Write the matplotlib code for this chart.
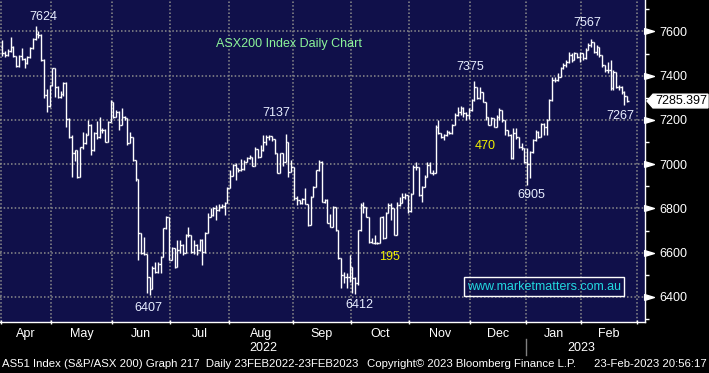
import numpy as np
import matplotlib
matplotlib.use("Agg")
import matplotlib.pyplot as plt
import matplotlib.transforms as mtransforms
from matplotlib.collections import LineCollection
from matplotlib.patches import Polygon

plt.rcParams["font.family"] = ["Liberation Sans", "DejaVu Sans"]

# ── data ──
months = ["Apr", "May", "Jun", "Jul", "Aug", "Sep", "Oct", "Nov", "Dec", "Jan", "Feb"]
month_days = [18, 22, 21, 21, 23, 21, 21, 22, 20, 20, 20]   # trading-day slots per month
years = ["2022", "2023"]
months_per_year = [9, 2]

highs = [
    7560, 7510, 7520, 7577, 7535, 7490, 7492, 7524, 7480, 7490, 7530, 7570, 7624, 7600, 7590, 7475, 7340, 7360,
    7434, 7434, 7355, 7330, 7370, 7370, 7210, 7130, 7064, 7064, 7080, 7147, 7140, 7200, 7180, 7145, 7195, 7215, 7165, 7160, 7195, 7290,
    7283, 7245, 7240, 7253, 7218, 7207, 7147, 7122, 7019, 6932, 6690, 6673, 6595, 6492, 6540, 6557, 6557, 6585, 6712, 6765, 6763,
    6627, 6620, 6658, 6658, 6640, 6685, 6718, 6680, 6658, 6640, 6660, 6660, 6695, 6778, 6800, 6805, 6816, 6820, 6820, 6830, 6895,
    6974, 7000, 7004, 6985, 7022, 7019, 7034, 7042, 7034, 7076, 7070, 7087, 7132, 7132, 7134, 7128, 7113, 7049, 7052, 7049, 7137, 7102, 7019,
    6989, 6857, 6840, 6846, 6891, 6820, 6857, 6900, 6974, 7019, 7015, 6842, 6842, 6775, 6810, 6805, 6703, 6575, 6514, 6510, 6590,
    6537, 6490, 6703, 6823, 6831, 6808, 6763, 6665, 6680, 6650, 6763, 6765, 6786, 6823, 6823, 6800, 6831, 6853, 6869, 6870, 6861,
    6870, 6995, 7012, 6986, 6900, 6950, 7009, 7009, 6975, 7175, 7200, 7140, 7138, 7155, 7150, 7180, 7230, 7260, 7264, 7260, 7235, 7252,
    7293, 7375, 7351, 7351, 7328, 7283, 7215, 7215, 7210, 7223, 7253, 7245, 7200, 7155, 7135, 7162, 7162, 7125, 7094, 7072,
    7072, 7060, 7115, 7155, 7150, 7186, 7186, 7205, 7295, 7396, 7396, 7411, 7441, 7456, 7471, 7509, 7501, 7509, 7501, 7509,
    7501, 7524, 7547, 7567, 7554, 7539, 7531, 7494, 7448, 7463, 7471, 7426, 7418, 7358, 7355, 7330, 7306,
]
lows = [
    7490, 7485, 7488, 7505, 7485, 7440, 7440, 7470, 7435, 7455, 7480, 7520, 7560, 7570, 7465, 7300, 7237, 7260,
    7355, 7305, 7300, 7300, 7310, 7168, 7120, 6944, 7014, 6939, 6941, 7070, 7090, 7130, 7040, 7060, 7115, 7120, 7140, 7100, 7100, 7190,
    7210, 7212, 7155, 7175, 7200, 7086, 7097, 7015, 6925, 6567, 6595, 6590, 6417, 6407, 6435, 6510, 6507, 6510, 6580, 6705, 6567,
    6565, 6530, 6537, 6600, 6590, 6597, 6670, 6600, 6595, 6590, 6610, 6545, 6600, 6690, 6760, 6765, 6748, 6790, 6800, 6772, 6824,
    6891, 6945, 6929, 6965, 6970, 6975, 7010, 7022, 6990, 6992, 7030, 7034, 7060, 7087, 7110, 7105, 7045, 6960, 6962, 6990, 7010, 6944, 6965,
    6840, 6815, 6820, 6822, 6818, 6722, 6725, 6850, 6895, 6970, 6828, 6825, 6734, 6715, 6718, 6700, 6572, 6439, 6462, 6439, 6470,
    6417, 6412, 6455, 6700, 6778, 6760, 6645, 6643, 6640, 6640, 6646, 6660, 6665, 6778, 6748, 6678, 6680, 6810, 6823, 6845, 6780,
    6785, 6866, 6975, 6855, 6831, 6895, 6940, 6960, 6950, 6962, 7135, 7118, 7110, 7128, 7135, 7137, 7175, 7220, 7223, 7215, 7200, 7205,
    7240, 7285, 7295, 7295, 7280, 7200, 7175, 7175, 7168, 7168, 7200, 7192, 7132, 7128, 7022, 7022, 7115, 7075, 7064, 7004,
    6905, 6936, 7050, 7105, 7120, 7125, 7132, 7132, 7200, 7285, 7373, 7378, 7396, 7430, 7440, 7456, 7463, 7471, 7480, 7463,
    7471, 7476, 7516, 7531, 7501, 7494, 7486, 7441, 7418, 7411, 7336, 7336, 7343, 7336, 7315, 7267, 7280,
]
closes = [
    7501, 7494, 7512, 7531, 7489, 7444, 7488, 7475, 7458, 7484, 7525, 7565, 7589, 7585, 7471, 7313, 7263, 7358,
    7434, 7350, 7305, 7317, 7366, 7204, 7125, 7050, 7064, 6941, 7076, 7095, 7132, 7177, 7064, 7140, 7122, 7155, 7155, 7102, 7190, 7283,
    7215, 7238, 7177, 7215, 7207, 7097, 7122, 7019, 6932, 6688, 6600, 6595, 6492, 6435, 6530, 6514, 6550, 6582, 6710, 6763, 6568,
    6620, 6537, 6612, 6635, 6597, 6680, 6680, 6605, 6635, 6612, 6658, 6605, 6691, 6763, 6770, 6800, 6793, 6808, 6812, 6824, 6891,
    6947, 6997, 6982, 6974, 6977, 7012, 7027, 7034, 6992, 7067, 7034, 7064, 7102, 7124, 7128, 7113, 7049, 6962, 7049, 7012, 7102, 6967, 6989,
    6846, 6838, 6824, 6841, 6820, 6725, 6853, 6898, 6974, 7012, 6831, 6838, 6736, 6718, 6805, 6703, 6575, 6500, 6492, 6492, 6537,
    6484, 6462, 6703, 6816, 6808, 6763, 6650, 6646, 6643, 6646, 6763, 6665, 6778, 6816, 6800, 6680, 6816, 6823, 6853, 6861, 6788,
    6866, 6986, 6986, 6861, 6896, 6944, 6997, 6962, 6962, 7170, 7140, 7125, 7132, 7147, 7140, 7177, 7223, 7238, 7253, 7230, 7223, 7245,
    7290, 7351, 7298, 7328, 7283, 7215, 7177, 7208, 7170, 7215, 7245, 7200, 7155, 7132, 7027, 7140, 7125, 7079, 7072, 7011,
    7000, 7057, 7110, 7147, 7125, 7182, 7170, 7200, 7290, 7381, 7381, 7396, 7433, 7448, 7463, 7494, 7471, 7501, 7483, 7501,
    7478, 7516, 7539, 7550, 7509, 7531, 7494, 7448, 7426, 7426, 7343, 7418, 7351, 7351, 7328, 7306, 7285.397,
]
first_open = 7530
last_price = 7285.397
price_ticks = [6400, 6600, 6800, 7000, 7200, 7400, 7600]

# labels drawn on the chart: text, x, y (pixels from top-left of plot), colour
WHITE_TXT = "#e8eeff"
notes = [
    ("7624", 43, 17, WHITE_TXT),
    ("7137", 276, 113, WHITE_TXT),
    ("7375", 470, 67, WHITE_TXT),
    ("7567", 587, 23, WHITE_TXT),
    ("7267", 620, 116, WHITE_TXT),
    ("6407", 148, 308, WHITE_TXT),
    ("6412", 359, 305, WHITE_TXT),
    ("6905", 531, 195, WHITE_TXT),
    ("470", 485, 146, "#f0f000"),
    ("195", 389, 257, "#f0f000"),
    ("ASX200 Index Daily Chart", 289, 44, "#8cf59a"),
]

# ── figure ──
W, H = 709, 373
PW, PH = 645, 322
BG = "#10104a"
GRID = "#8c8c8c"

fig = plt.figure(figsize=(W / 100, H / 100), dpi=100, facecolor="black")
ax = fig.add_axes([0, 1 - PH / H, PW / W, PH / H])
ax.set_facecolor(BG)

n = len(closes)
opens = [first_open] + closes[:-1]
segs = []
for i in range(n):
    lo = min(lows[i], opens[i], closes[i])
    hi = max(highs[i], opens[i], closes[i])
    segs.append([(i, lo), (i, hi)])
    segs.append([(i - 0.5, opens[i]), (i, opens[i])])
    segs.append([(i, closes[i]), (i + 0.5, closes[i])])
ax.add_collection(LineCollection(segs, colors="white", linewidths=1.0, zorder=3))

bounds = np.cumsum([0] + month_days) - 0.5
centers = (bounds[:-1] + bounds[1:]) / 2
ax.set_xlim(bounds[0] - 0.36, bounds[-1] + 2.9)
ax.set_ylim(6287, 7742)

# grid
ax.set_xticks(bounds)
ax.set_xticklabels([])
ax.set_xticks(centers, minor=True)
ax.set_xticklabels(months, minor=True)
ax.set_yticks(price_ticks)
ax.set_yticks(np.array(price_ticks[:-1]) + 100, minor=True)
ax.set_yticks(list(ax.get_yticks(minor=True)) + [6300, 7700], minor=True)
ax.grid(True, which="major", color=GRID, linestyle=(0, (1, 1.4)), linewidth=1.1)
ax.set_axisbelow(True)

ax.yaxis.tick_right()
ax.tick_params(axis="y", which="major", colors="white", length=0, pad=10, labelsize=9)
ax.tick_params(axis="y", which="minor", colors="white", length=3, width=1)
ax.tick_params(axis="x", which="major", colors="white", length=3, width=1, direction="inout")
ax.tick_params(axis="x", which="minor", colors="white", length=0, pad=4, labelsize=9)
for lbl in ax.get_yticklabels():
    lbl.set_color("white")

for side in ["top", "left"]:
    ax.spines[side].set_visible(False)
for side in ["right", "bottom"]:
    ax.spines[side].set_color("white")
    ax.spines[side].set_linewidth(1.0)

# right-axis pointer triangles
tri = [(-1, -0.6), (1, 0), (-1, 0.6), (-1, -0.6)]
ax.plot([1 + 4 / PW] * len(price_ticks), price_ticks, ls="none", marker=tri, ms=7,
        color="white", transform=ax.get_yaxis_transform(), clip_on=False)

# last price tag
ytr = ax.get_yaxis_transform()
hh = 31
tag = Polygon([(1 + 2 / PW, last_price), (1 + 8 / PW, last_price + hh), (1 + 63 / PW, last_price + hh),
               (1 + 63 / PW, last_price - hh), (1 + 8 / PW, last_price - hh)],
              closed=True, fc="white", ec="white", transform=ytr, clip_on=False)
ax.add_patch(tag)
ax.text(1 + 36 / PW, last_price, f"{last_price:.3f}", transform=ytr, color="black",
        fontsize=9, ha="center", va="center", clip_on=False)

# year labels under the months
xtr = ax.get_xaxis_transform()
start = 0
for yr, nm in zip(years, months_per_year):
    ax.text((bounds[start] + bounds[start + nm]) / 2, -26 / PH, yr, transform=xtr,
            color="white", fontsize=9, ha="center", va="center")
    start += nm
ax.plot([bounds[months_per_year[0]]] * 2, [-17 / PH, -33 / PH], color="#808080",
        lw=1, transform=xtr, clip_on=False)

# chart notes
for txt, px, py, col in notes:
    ax.text(px / PW, 1 - py / PH, txt, transform=ax.transAxes, color=col,
            fontsize=9, ha="center", va="center")

ax.text(544 / PW, 1 - 286.5 / PH, "www.marketmatters.com.au", transform=ax.transAxes,
        color="#22d8e0", fontsize=9, ha="center", va="center",
        bbox=dict(boxstyle="square,pad=0.25", fc="none", ec="white", lw=1))

# footer
fy = 1 - 364 / H
fig.text(2 / W, fy, "AS51 Index (S&P/ASX 200) Graph 217  Daily 23FEB2022-23FEB2023",
         color="white", fontsize=8.2, ha="left", va="center")
fig.text(367 / W, fy, "Copyright\u00a9 2023 Bloomberg Finance L.P.",
         color="white", fontsize=8.2, ha="left", va="center")
fig.text(707 / W, fy, "23-Feb-2023 20:56:17", color="white", fontsize=8.2, ha="right", va="center")

fig.savefig("out.png", dpi=100, facecolor="black")
